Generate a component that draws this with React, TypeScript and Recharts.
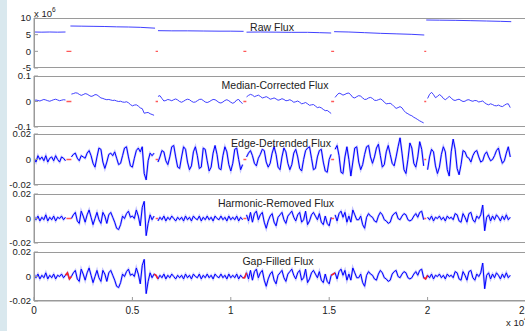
import { LineChart, Line, XAxis, YAxis } from "recharts";

// time axis (cadence index -> time), ticks shown as multiples of 10^4
const xTicks = [0, 5000, 10000, 15000, 20000, 25000];
const cadence = 100;

// data gaps (time range), drawn as red marks at zero
const gapStart = [1650, 6180, 10640, 15100, 19830];
const gapEnd = [1900, 6300, 10790, 15250, 19930];

// raw flux, units of 10^6
const rawTime = [
  0, 400, 800, 1200, 1600, 1700, 1850, 2400, 3000, 3600, 4200, 4800, 5400, 6150, 6220, 6300,
  7000, 7800, 8600, 9400, 10000, 10650, 10700, 10800, 11500, 12300, 13100, 13900, 14500,
  15100, 15170, 15250, 16000, 16800, 17600, 18400, 19200, 19830, 19880, 19930, 20600, 21400,
  22200, 23000, 23700, 24250,
];
const rawFlux = [
  5.8, 5.75, 5.8, 5.75, 5.8, null, 7.6, 7.55, 7.5, 7.45, 7.35, 7.3, 7.2, 6.95, null, 6.2,
  6.15, 6.15, 6.1, 6.05, 6.05, 6.0, null, 5.75, 5.8, 5.75, 5.7, 5.7, 5.6,
  5.5, null, 5.9, 5.8, 5.6, 5.4, 5.25, 5.1, 4.9, null, 9.4, 9.35, 9.3,
  9.2, 9.1, 9.0, 8.9,
];

// the rest are one sample per cadence, in units of 10^-3
const medianMilli = [
  3, 6, 4, 2, 5, 8, 6, 3, 1, 4, 7, 9, 6, 3, 5, 7, 6,
  null, null,
  29, 31, 34, 33, 28, 24, 27, 31, 29, 24, 20, 22, 27, 26, 20, 14, 12, 9, 7, 8,
  6, 4, 5, 2, 0, 1, -2, -3, -1, -5, -12, -17, -14, -13, -18, -25, -28, -46, -44, -43,
  -48, -51, -54,
  null,
  20, 23, 12, 2, 4, 8, 6, 3, 7, 10, 6, 0, -3, 1, 6, 9, 7, 1, -3, -2,
  3, 8, 9, 4, -2, -4, -1, 4, 8, 7, 2, -4, -6, -2, 4, 7, 3, -3, -7, -3, 6, 8, -2, -8,
  null,
  18, 24, 28, 25, 19, 22, 25, 20, 14, 16, 19, 15, 9, 11, 14, 10, 5, 7, 11, 8,
  3, 4, 7, 3, -3, -1, 2, -3, -9, -7, -4, -9, -15, -13, -12, -18, -24, -22, -25, -31,
  -36, -35, -41, -47,
  null,
  16, 26, 33, 30, 25, 28, 32, 33, 26, 16, 14, 19, 23, 21, 14, 8, 9, 14, 16, 12,
  5, 4, 7, 10, 6, -3, -9, -8, -7, -12, -20, -27, -24, -20, -25, -36, -44, -48, -53, -56,
  -62, -66, -71, -76, -80, -84,
  null,
  12, 28, 36, 27, 15, 20, 27, 22, 12, 7, 13, 20, 14, 6, 4, 7, 9, 4, 0, 1,
  6, 7, 3, 1, 4, 3, -2, 0, 2, -5, -10, -13, -9, -12, -16, -17, -14, -18, -20, -15,
  -10, -9, -24,
];

const detrendedMilli = [
  1, -2, 3, 0, 2, -1, 3, -2, 1, 2, -1, 3, 0, -2, 2, 1, -1,
  null, null,
  2, 4, 5, 1, -1, 3, 2, 1, 5, 7, 3, -3, -6, 2, 9, 8, -2, -7, -2, 4,
  5, 3, 6, 1, -4, -3, 3, 9, 10, 2, -5, -6, 1, 7, 9, 6, 10, -11, -16, -1,
  5, 3, 5,
  null,
  -2, 2, 7, 6, -1, -4, 2, 10, 11, 2, -6, -7, 2, 10, 8, -2, -8, -5, 6, 10,
  3, -7, -6, 9, 8, -1, -9, -6, 5, 11, 4, -7, -8, 3, 10, 6, -4, -9, -3, 8, 9, 0, -8, -4,
  null,
  2, 5, 7, 3, -3, -5, 1, 4, 8, 7, -2, -6, -3, 5, 10, 4, -6, -8, 2, 9,
  6, -3, -8, -4, 5, 8, 2, -7, -9, 0, 7, 9, 10, 1, -8, -7, 2, 7, 8, -2, -9, -10, 0, 4,
  null,
  8, 11, 3, -10, -11, 2, 10, 0, -13, -2, 9, 10, -2, -8, -4, 4, 10, 11, 2, -3,
  2, 9, 12, 3, -6, -4, 6, 11, 4, -3, -5, 2, 10, 17, 5, -8, -11, 0, 13, 9,
  -3, -6, 2, 14, 8, -5,
  null,
  -8, 2, 8, 6, -5, -11, -6, 4, 10, 6, -8, -13, 6, 16, 8, -7, -12, -4, 7, 6,
  2, 1, -2, 3, 6, 7, 2, -2, -1, 4, 6, 2, -1, 0, 3, 7, 9, 2, -3, -1, 5, 10, 2,
];

const harmonicMilli = [
  2, -1, 2, -2, 1, -1, 3, -2, 1, -1, 2, -2, 1, 0, 2, -1, 1,
  null, null,
  0, 3, 5, -2, -4, 6, 2, -3, 3, 7, 1, -5, 0, 5, -1, -4, 5, 2, -4, 3,
  5, 1, -3, -8, -9, -5, 2, 0, 4, 6, 1, 2, 0, 7, 2, -6, 9, 14, -14, -4,
  3, -1, 2,
  null,
  -2, 1, -1, 2, -2, 1, -1, 2, 0, -2, 1, -1,
  1, -2, 2, -1, 1, -2, 2, 0, -1, 2, -2, 1, -1, 2, -1, 1, -2, 2, 0, -1,
  2, -1, 1, -2, 2, -1, 1, -1, 2, -2, 1, -1,
  null,
  3, -2, 5, -3, 4, 6, -1, 3, 5, -3, -8, -2, 2, 4, -3, -6, 1, 3, 5, -1,
  -4, 2, 4, 6, 1, -2, 3, 5, -3, -1, 6, -5, -2, 3, 5, 2, -1, 4, -3, -5, 2, -4, -6, 1,
  null,
  3, -2, 4, 6, 1, 5, -3, 2, -3, 7, 3, -1, -1, 2, -5, -8, 1, 4, 2, 1,
  -2, -3, 2, 5, 3, -1, -2, -4, -3, 2, 4, 5, 0, -1, 2, 4, 3, -1, -2, -1,
  2, 4, 1, 5, 6, -1,
  null,
  1, -1, 2, -2, 1, 0, 2, -1, 1, -2, 2, 0, 1, -1, 4, 3, -2, -3, 4, 1,
  -3, 4, 5, -1, -3, 2, 0, 3, 11, -10, 1, 3, -2, 2, -1, 3, 1, -2, 2, -1, 3, -1, 1,
];

// values put into the holes for the gap-filled series
const gapFillMilli = [3, -2, 1, -1, 2, -2];

const BLUE = "#0000ff";
const HALO = "#7f7fff";
const RED = "#ff2020";
const FRAME = "#9a9a9a";
const TEXT = "#222";
const SVG_W = 540;
const PLOT_LEFT = 34;
const PLOT_RIGHT = 526;
const PAD = 8;

type Row = { t: number; v: number | null; r?: number | null };

const toRows = (vals: (number | null)[]): Row[] =>
  vals.map((v, i) => ({ t: i * cadence, v: v === null ? null : v * 0.001 }));

const rawRows: Row[] = rawTime.map((t, i) => ({ t, v: rawFlux[i] }));
const medianRows = toRows(medianMilli);
const detrendedRows = toRows(detrendedMilli);
const harmonicRows = toRows(harmonicMilli);

let fillIdx = 0;
const filledMilli = harmonicMilli.map((v) => (v === null ? gapFillMilli[fillIdx++] : v));
const isHole = harmonicMilli.map((v) => v === null);
const gapFilledRows: Row[] = filledMilli.map((v, i) => ({
  t: i * cadence,
  v: v * 0.001,
  r: isHole[i] || isHole[i - 1] || isHole[i + 1] ? v * 0.001 : null,
}));

const gapMarks = gapStart.flatMap((s, i) => [
  { t: s, v: 0 },
  { t: gapEnd[i], v: 0 },
  { t: gapEnd[i] + 1, v: null },
]);

interface PanelProps {
  top: number;
  height: number;
  rows: Row[];
  domain: [number, number];
  ticks: number[];
  title: string;
  titleX: number;
  thick?: boolean;
  gaps?: boolean;
  redFill?: boolean;
  bottomLabels?: boolean;
}

function Panel({ top, height, rows, domain, ticks, title, titleX, thick, gaps, redFill, bottomLabels }: PanelProps) {
  const axisH = bottomLabels ? 22 : 0;
  return (
    <div style={{ position: "absolute", left: 0, top: top - PAD }}>
      <LineChart
        width={SVG_W}
        height={height + PAD * 2 + axisH}
        data={rows}
        margin={{ top: PAD, right: SVG_W - PLOT_RIGHT, bottom: PAD, left: 0 }}
      >
        <XAxis
          xAxisId="b"
          dataKey="t"
          type="number"
          domain={[0, 25000]}
          ticks={xTicks}
          interval={0}
          allowDataOverflow
          height={axisH}
          tickSize={-4}
          tickMargin={10}
          stroke={FRAME}
          tick={bottomLabels ? { fill: TEXT, fontSize: 10 } : false}
          tickFormatter={(v: number) => String(v / 10000)}
        />
        <XAxis
          xAxisId="t"
          orientation="top"
          dataKey="t"
          type="number"
          domain={[0, 25000]}
          ticks={xTicks}
          interval={0}
          allowDataOverflow
          height={0}
          tickSize={-4}
          stroke={FRAME}
          tick={false}
        />
        <YAxis
          yAxisId="l"
          type="number"
          domain={domain}
          ticks={ticks}
          interval={0}
          allowDataOverflow
          width={PLOT_LEFT}
          tickSize={-4}
          tickMargin={7}
          stroke={FRAME}
          tick={{ fill: TEXT, fontSize: 9.5 }}
        />
        <YAxis
          yAxisId="r"
          orientation="right"
          type="number"
          domain={domain}
          ticks={ticks}
          interval={0}
          allowDataOverflow
          width={0}
          tickSize={-4}
          stroke={FRAME}
          tick={false}
        />
        {thick && (
          <Line
            xAxisId="b"
            yAxisId="l"
            dataKey="v"
            stroke={HALO}
            strokeWidth={2.2}
            strokeOpacity={0.45}
            dot={false}
            activeDot={false}
            isAnimationActive={false}
          />
        )}
        <Line
          xAxisId="b"
          yAxisId="l"
          dataKey="v"
          stroke={thick ? BLUE : "#2a2aff"}
          strokeWidth={thick ? 1 : 0.9}
          dot={false}
          activeDot={false}
          isAnimationActive={false}
        />
        {gaps && (
          <Line
            xAxisId="b"
            yAxisId="l"
            data={gapMarks}
            dataKey="v"
            stroke={RED}
            strokeWidth={1.3}
            strokeOpacity={0.75}
            dot={false}
            activeDot={false}
            isAnimationActive={false}
          />
        )}
        {redFill && (
          <Line
            xAxisId="b"
            yAxisId="l"
            dataKey="r"
            stroke={RED}
            strokeWidth={1.5}
            dot={false}
            activeDot={false}
            isAnimationActive={false}
          />
        )}
      </LineChart>
      {/* panel frame */}
      <div
        style={{
          position: "absolute",
          left: PLOT_LEFT,
          top: PAD,
          width: PLOT_RIGHT - PLOT_LEFT,
          height,
          border: `1px solid ${FRAME}`,
          boxSizing: "border-box",
          pointerEvents: "none",
        }}
      />
      <div
        style={{
          position: "absolute",
          left: titleX,
          top: PAD + 9,
          transform: "translate(-50%, -50%)",
          fontSize: 10.5,
          color: TEXT,
          whiteSpace: "nowrap",
        }}
      >
        {title}
      </div>
    </div>
  );
}

export default function App() {
  return (
    <div
      style={{
        position: "fixed",
        left: 0,
        top: 0,
        width: 525,
        height: 331,
        overflow: "hidden",
        background: "#fff",
        fontFamily: '"Liberation Sans", Arial, sans-serif',
      }}
    >
      <div style={{ position: "absolute", left: 0, top: 0, width: 7, height: 331, background: "#d9e8ee" }} />
      <Panel top={18} height={50} rows={rawRows} domain={[-5, 10]} ticks={[-5, 0, 5, 10]} title="Raw Flux" titleX={272} gaps />
      <Panel
        top={76}
        height={51}
        rows={medianRows}
        domain={[-0.1, 0.1]}
        ticks={[-0.1, 0, 0.1]}
        title="Median-Corrected Flux"
        titleX={275}
        gaps
      />
      <Panel
        top={134}
        height={51}
        rows={detrendedRows}
        domain={[-0.02, 0.02]}
        ticks={[-0.02, 0, 0.02]}
        title="Edge-Detrended Flux"
        titleX={281}
        thick
        gaps
      />
      <Panel
        top={194}
        height={49}
        rows={harmonicRows}
        domain={[-0.02, 0.02]}
        ticks={[-0.02, 0, 0.02]}
        title="Harmonic-Removed Flux"
        titleX={276}
        thick
        gaps
      />
      <Panel
        top={252}
        height={49}
        rows={gapFilledRows}
        domain={[-0.02, 0.02]}
        ticks={[-0.02, 0, 0.02]}
        title="Gap-Filled Flux"
        titleX={278}
        thick
        redFill
        bottomLabels
      />
      <div style={{ position: "absolute", left: 34, top: 8, fontSize: 9.5, color: TEXT, whiteSpace: "nowrap" }}>
        x 10<sup style={{ fontSize: 6.5, verticalAlign: "top", position: "relative", top: -2 }}>6</sup>
      </div>
      <div style={{ position: "absolute", left: 506, top: 317, fontSize: 9.5, color: TEXT, whiteSpace: "nowrap" }}>
        x 10<sup style={{ fontSize: 6.5, verticalAlign: "top", position: "relative", top: -2 }}>4</sup>
      </div>
    </div>
  );
}
